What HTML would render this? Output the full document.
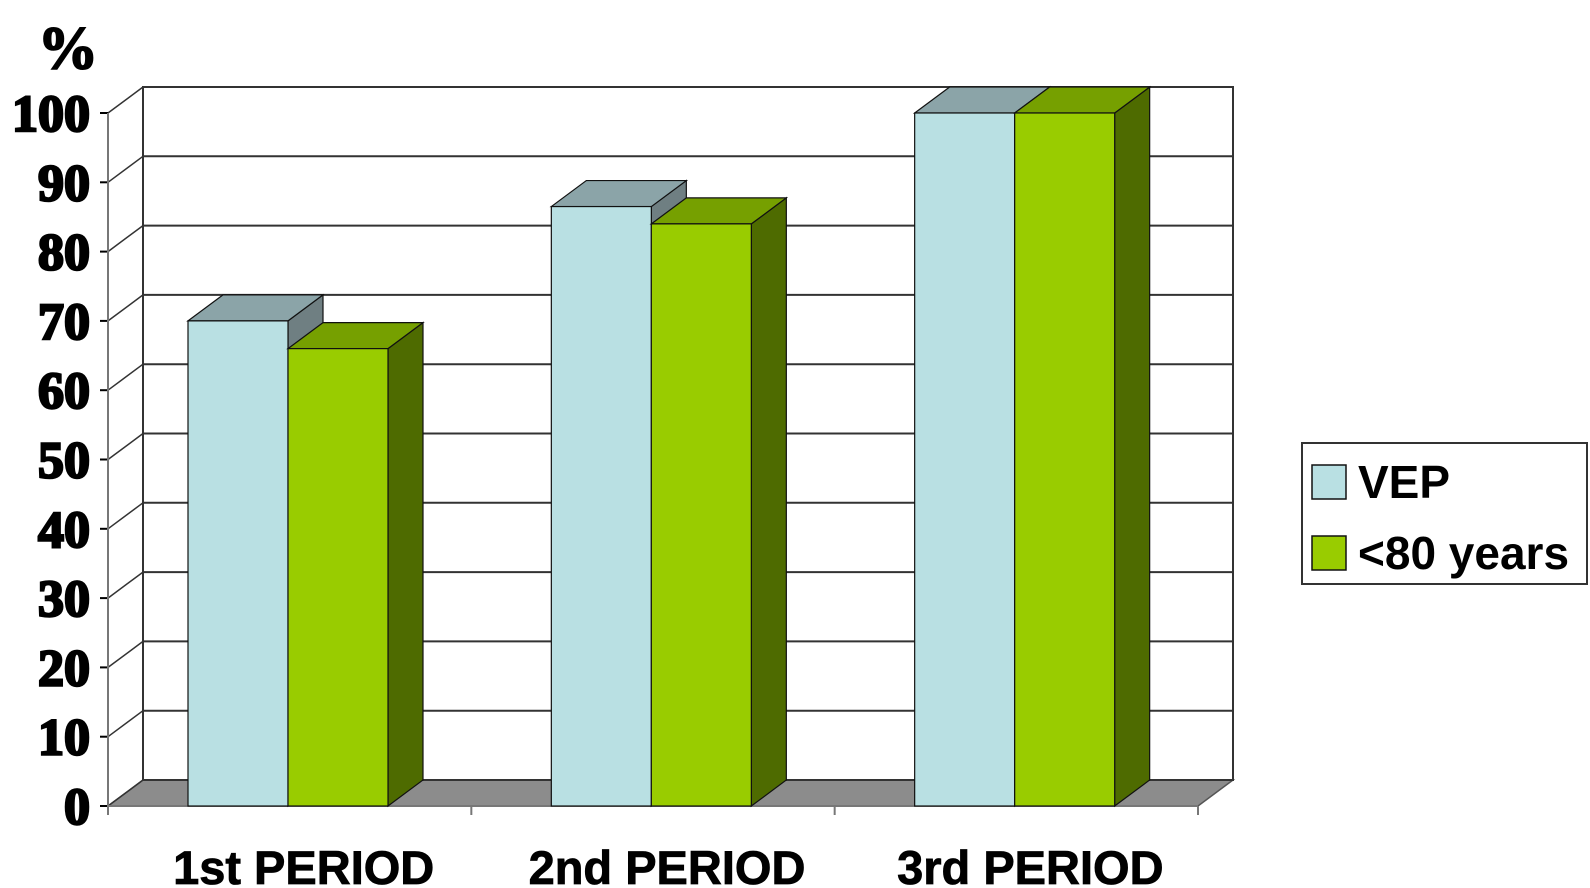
<!DOCTYPE html>
<html><head><meta charset="utf-8"><style>
body{margin:0;background:#fff}
svg{display:block}
</style></head><body>
<svg id="chart" width="1590" height="888" viewBox="0 0 1590 888" xmlns="http://www.w3.org/2000/svg">
<g id="g"></g>
</svg>
<script>
const categories = ["1st PERIOD", "2nd PERIOD", "3rd PERIOD"];
const vepValues = [70, 86.5, 100];
const under80Values = [66, 84, 100];
const yTicks = [0, 10, 20, 30, 40, 50, 60, 70, 80, 90, 100];

const NS = "http://www.w3.org/2000/svg";
const g = document.getElementById("g");
const X0 = 108, X1 = 1198, Y0 = 806, Y100 = 113, DX = 35, DY = -26;
const y = v => Y0 + (Y100 - Y0) * v / 100;
const groupW = (X1 - X0) / categories.length;
function el(tag, attrs, parent) {
  const e = document.createElementNS(NS, tag);
  for (const k in attrs) e.setAttribute(k, attrs[k]);
  (parent || g).appendChild(e);
  return e;
}
let floor = el("polygon", {points: `${X0},${Y0} ${X1},${Y0} ${X1+DX},${Y0+DY} ${X0+DX},${Y0+DY}`, fill: "#8c8c8c", stroke: "#555", "stroke-width": 1.5});


let wall = el("rect", {x: X0+DX, y: y(100)+DY, width: X1-X0, height: Y0-Y100, fill: "#fff", stroke: "#333", "stroke-width": 2});


yTicks.forEach(t => {
  if (t > 0) {
    let gl = el("line", {x1: X0+DX, x2: X1+DX, y1: y(t)+DY, y2: y(t)+DY, stroke: "#333", "stroke-width": 2});
    
    
  }
  let dg = el("line", {x1: X0, x2: X0+DX, y1: y(t), y2: y(t)+DY, stroke: "#333", "stroke-width": 1.5});
  
  
  let tk = el("line", {x1: X0-8, x2: X0, y1: y(t), y2: y(t), stroke: "#000", "stroke-width": 2});
  
  
  let tl = el("text", {x: 90, y: y(t)+18, "text-anchor": "end", "font-family": "Liberation Serif, serif", "font-weight": "bold", "font-size": 52, fill: "#000", stroke: "#000", "stroke-width": 2.5});
  tl.textContent = t;
  
  
});
let ax = el("line", {x1: X0, x2: X0, y1: Y100, y2: Y0, stroke: "#777", "stroke-width": 2});


let xa = el("line", {x1: X0, x2: X1, y1: Y0, y2: Y0, stroke: "#777", "stroke-width": 2});


for (let i = 0; i <= categories.length; i++) {
  let xt = el("line", {x1: X0+i*groupW, x2: X0+i*groupW, y1: Y0, y2: Y0+9, stroke: "#777", "stroke-width": 2});
  
  
}
let pct = el("text", {x: 38, y: 68, "font-family": "Liberation Serif, serif", "font-weight": "bold", "font-size": 60, fill: "#000", stroke: "#000", "stroke-width": 2});
pct.textContent = "%";



function bar(x, w, v, front, top, side, name) {
  const yt = y(v);
  let s = el("polygon", {points: `${x+w},${Y0} ${x+w+DX},${Y0+DY} ${x+w+DX},${yt+DY} ${x+w},${yt}`, fill: side, stroke: "#111", "stroke-width": 1.2});
  
  
  let tp = el("polygon", {points: `${x},${yt} ${x+DX},${yt+DY} ${x+w+DX},${yt+DY} ${x+w},${yt}`, fill: top, stroke: "#111", "stroke-width": 1.2});
  
  
  let f = el("rect", {x: x, y: yt, width: w, height: Y0-yt, fill: front, stroke: "#111", "stroke-width": 1.2});
  
  
}
categories.forEach((c, i) => {
  const gx = X0 + i*groupW + 80;
  bar(gx, 100, vepValues[i], "#b9e0e3", "#8ba4a8", "#6f7f82", "bar-vep-" + (i+1));
  bar(gx+100, 100, under80Values[i], "#99cc00", "#76a000", "#4e6b00", "bar-under80-" + (i+1));
  let cl = el("text", {x: X0 + (i+0.5)*groupW + 14, y: 884, "text-anchor": "middle", "font-family": "Liberation Sans, sans-serif", "font-weight": "bold", "font-size": 47, fill: "#000", stroke: "#000", "stroke-width": 0.8});
  cl.textContent = c;
  
  
});
let lg = el("rect", {x: 1302, y: 443, width: 285, height: 141, fill: "#fff", stroke: "#333", "stroke-width": 2});


[["VEP", "#b9e0e3", 482], ["<80 years", "#99cc00", 553]].forEach(([t, c, cy], i) => {
  let sw = el("rect", {x: 1312, y: cy-17, width: 34, height: 34, fill: c, stroke: "#111", "stroke-width": 1.5});
  
  
  let lt = el("text", {x: 1358, y: cy+16, "font-family": "Liberation Sans, sans-serif", "font-weight": "bold", "font-size": 46, fill: "#000"});
  lt.textContent = t;
  
  
});
</script>
</body></html>
